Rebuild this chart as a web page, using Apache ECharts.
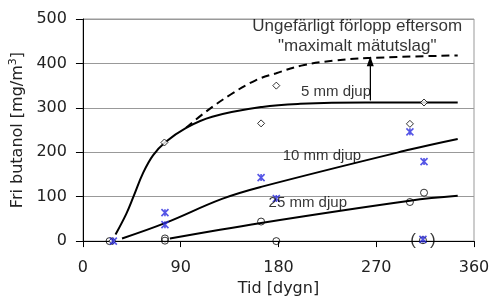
<!DOCTYPE html>
<html>
<head>
<meta charset="utf-8">
<script src="https://cdn.jsdelivr.net/npm/echarts@6/dist/echarts.min.js"></script>
<style>
  html, body { margin: 0; padding: 0; background: #fff; }
  #container { width: 494px; height: 302px; }
</style>
</head>
<body>
<div id="container"></div>
<script>
// measured points (day, mg/m3)
const mm5Points = [[27, 0], [75, 222], [164, 265], [178, 350], [301, 264], [314, 312]];
const mm10Points = [[28, 0], [75.5, 64], [75.5, 37], [164, 143], [178, 96], [301, 246], [314, 179], [313, 4]];
const mm25Points = [[24.5, 0], [75.5, 6], [75.5, 1], [164, 44], [178, 0], [301, 88], [314, 109]];
const bracketPoint = [313, 2];

// fitted curves
const mm5Curve = [[30, 15], [40, 62], [46.5, 100], [55.5, 154], [64.5, 193], [75.5, 222], [95, 255],
  [119, 280], [165, 302], [200, 309], [260, 312], [345, 312]];
const maxCurve = [[95, 255], [113, 291], [136, 330], [159, 362], [178, 378], [201, 395], [230, 406], [262, 412], [345, 418]];
const mm10Curve = [[36, 6], [76, 41], [128, 95], [164, 122], [301, 206], [345, 230]];
const mm25Curve = [[80, 6], [164, 41], [301, 91], [345, 102]];

const arrowLine = [[264.5, 317], [264.5, 405]];

const curveLabels = [
  { name: '5 mm djup', value: [233, 336] },
  { name: '10 mm djup', value: [220, 191] },
  { name: '25 mm djup', value: [207, 85] }
];
const noteText = 'Ungefärligt förlopp eftersom\n"maximalt mätutslag"';
const notePos = [252.5, 460];

const xTicks = { min: 0, max: 360, interval: 90 };
const yTicks = { min: 0, max: 500, interval: 100 };

const chart = echarts.init(document.getElementById('container'), null, { renderer: 'canvas' });

const axisFont = 'DejaVu Sans';
const labelFont = 'Liberation Sans';

function curve(data, dashed) {
  return {
    type: 'line',
    data: data,
    smooth: 0.4,
    symbol: 'none',
    silent: true,
    lineStyle: { color: '#000', width: 2, type: dashed ? [8, 5] : 'solid' },
    z: 2
  };
}

function textSeries(data, size, lineHeight) {
  return {
    type: 'scatter',
    data: data,
    symbol: 'circle',
    symbolSize: 1,
    silent: true,
    itemStyle: { color: 'rgba(0,0,0,0)' },
    label: {
      show: true, position: 'inside', formatter: '{b}', align: 'center',
      fontFamily: labelFont, fontSize: size, lineHeight: lineHeight, color: '#000'
    },
    labelLayout: { hideOverlap: false },
    z: 5
  };
}

const option = {
  animation: false,
  grid: { left: 79, right: 20, top: 19, bottom: 53, show: true, borderColor: '#999', borderWidth: 1 },
  xAxis: {
    type: 'value',
    min: xTicks.min, max: xTicks.max, interval: xTicks.interval,
    name: 'Tid [dygn]',
    nameLocation: 'middle',
    nameGap: 36,
    nameTextStyle: { fontFamily: axisFont, fontSize: 16, color: '#222' },
    axisLine: { show: true, lineStyle: { color: '#000', width: 1 } },
    axisTick: { show: true, length: 6, lineStyle: { color: '#000' } },
    axisLabel: { fontFamily: axisFont, fontSize: 16, color: '#222', margin: 19 },
    splitLine: { show: false }
  },
  yAxis: {
    type: 'value',
    min: yTicks.min, max: yTicks.max, interval: yTicks.interval,
    name: '{n|Fri butanol [mg/m}{s|3}{n|]}',
    nameLocation: 'middle',
    nameGap: 50,
    nameRotate: 90,
    nameTextStyle: {
      rich: {
        n: { fontFamily: axisFont, fontSize: 16, color: '#222' },
        s: { fontFamily: axisFont, fontSize: 11, color: '#222', verticalAlign: 'top', padding: [0, 0, 8, 0] }
      }
    },
    axisLine: { show: true, lineStyle: { color: '#000', width: 1 } },
    axisTick: { show: true, length: 7, lineStyle: { color: '#000' } },
    axisLabel: { fontFamily: axisFont, fontSize: 16, color: '#222', margin: 16 },
    splitLine: { show: true, lineStyle: { color: '#999', width: 1 } }
  },
  series: [
    curve(maxCurve, true),
    curve(mm5Curve, false),
    curve(mm10Curve, false),
    curve(mm25Curve, false),
    {
      type: 'line',
      data: arrowLine,
      symbol: 'none',
      silent: true,
      lineStyle: { color: '#000', width: 1 },
      markLine: {
        silent: true,
        symbol: ['none', 'triangle'],
        symbolSize: [7, 10],
        label: { show: false },
        lineStyle: { color: '#000', width: 1, type: 'solid' },
        data: [[{ coord: arrowLine[0] }, { coord: arrowLine[1] }]]
      }
    },
    {
      type: 'scatter',
      data: mm5Points,
      symbol: 'diamond',
      symbolSize: 7,
      itemStyle: { color: '#fff', borderColor: '#000', borderWidth: 1 },
      z: 3
    },
    {
      type: 'scatter',
      data: mm25Points,
      symbol: 'circle',
      symbolSize: 7,
      itemStyle: { color: 'rgba(255,255,255,0)', borderColor: '#000', borderWidth: 1 },
      z: 3
    },
    {
      type: 'scatter',
      data: [bracketPoint],
      symbol: 'circle',
      symbolSize: 7,
      itemStyle: { color: 'rgba(255,255,255,0)', borderColor: '#000', borderWidth: 1 },
      label: {
        show: true, position: 'inside', formatter: '(   )',
        fontFamily: labelFont, fontSize: 17, color: '#000'
      },
      z: 3
    },
    {
      type: 'scatter',
      data: mm10Points,
      symbol: 'path://M0,0L10,10M10,0L0,10M5,0L5,10',
      symbolSize: 7,
      itemStyle: { color: 'rgba(0,0,0,0)', borderColor: '#2a2ae0', borderWidth: 1.6 },
      z: 4
    },
    textSeries(curveLabels, 15, 18),
    textSeries([{ name: noteText, value: notePos }], 17, 20)
  ]
};

chart.setOption(option);
window.addEventListener('resize', () => chart.resize());
</script>
</body>
</html>
